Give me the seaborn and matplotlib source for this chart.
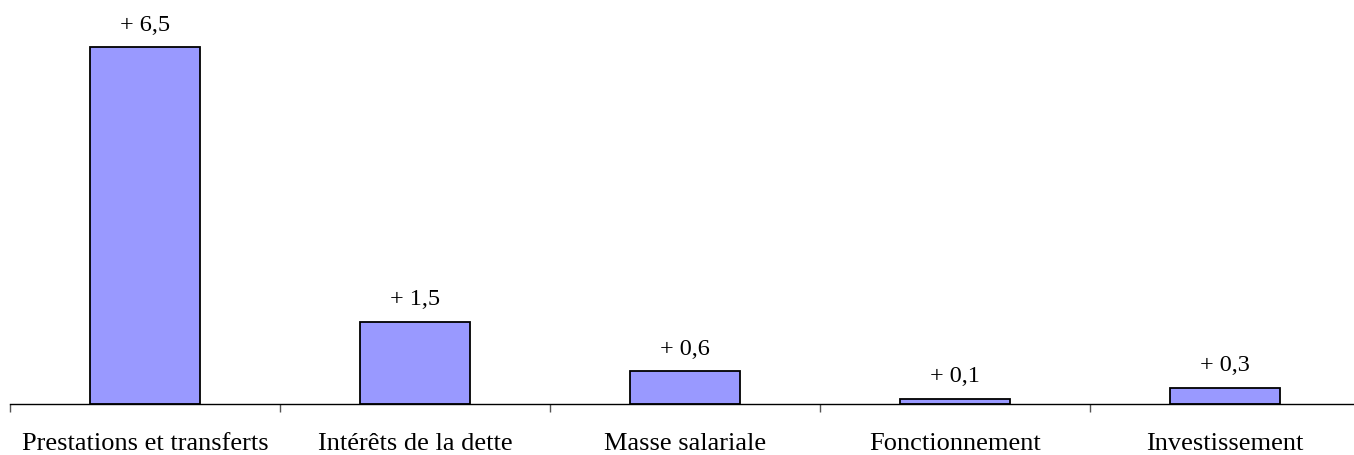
import matplotlib
matplotlib.use("Agg")
import matplotlib.pyplot as plt
import seaborn as sns
import pandas as pd

categories = ["Prestations et transferts", "Intérêts de la dette", "Masse salariale",
              "Fonctionnement", "Investissement"]
values = [6.5, 1.5, 0.6, 0.1, 0.3]
value_labels = ["+ 6,5", "+ 1,5", "+ 0,6", "+ 0,1", "+ 0,3"]

sns.set_style("white")
plt.rcParams['font.family'] = ['Liberation Serif', 'DejaVu Serif']
plt.rcParams['text.color'] = 'black'
plt.rcParams['xtick.labelcolor'] = 'black'

W, H = 1354, 456
fig = plt.figure(figsize=(W / 100, H / 100), dpi=100)
ax = fig.add_axes([10 / W, 51 / H, 1 - 10 / W, 405 / H])

df = pd.DataFrame({"cat": categories, "val": values})
sns.barplot(data=df, x="cat", y="val", ax=ax, color="#9999FF", saturation=1,
            width=0.41, edgecolor="black", linewidth=1.3)

for p, lab in zip(ax.patches, value_labels):
    ax.annotate(lab, (p.get_x() + p.get_width() / 2, p.get_height()),
                xytext=(0, 9), textcoords="offset points", ha="center", va="bottom",
                fontsize=17.5, color="black")

ax.set_xlabel("")
ax.set_ylabel("")
ax.set_yticks([])
for s in ["top", "right", "left"]:
    ax.spines[s].set_visible(False)
ax.spines["bottom"].set_linewidth(1.0)
ax.spines["bottom"].set_color("black")

ax.set_xticks(range(len(categories)))
ax.set_xticklabels(categories, fontsize=19, color="black")
ax.tick_params(axis="x", which="both", bottom=True)
ax.tick_params(axis="x", which="major", length=0, pad=20)
ax.set_xticks([i - 0.5 for i in range(len(categories) + 1)], minor=True)
ax.tick_params(axis="x", which="minor", length=6, width=1, color="#555555", direction="out")

ax.set_xlim(-0.5, (W - 10) / 270 - 0.5)
ax.set_ylim(0, 405 / 54.9)

fig.savefig("out.png", dpi=100)
